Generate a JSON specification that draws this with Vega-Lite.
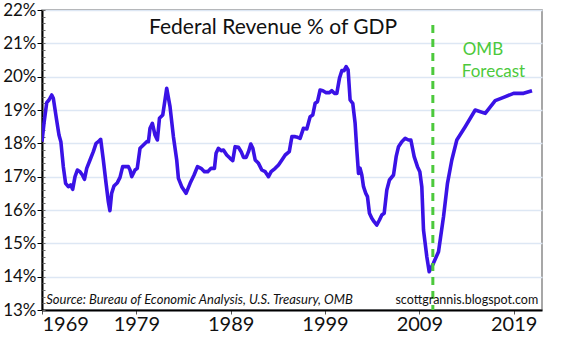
{
  "$schema": "https://vega.github.io/schema/vega-lite/v6.json",
  "width": 500,
  "height": 300,
  "autosize": {"type": "none"},
  "padding": {"left": 42, "top": 10, "right": 19, "bottom": 28},
  "background": "white",
  "config": {
    "view": {"stroke": "#8a8a8a", "strokeWidth": 1.5},
    "font": "Lato"
  },
  "datasets": {
    "revenue": [
    {"year": 1969.0, "pct": 18.05}, {"year": 1969.21, "pct": 18.6}, {"year": 1969.5, "pct": 19.22}, {"year": 1969.74, "pct": 19.3},
    {"year": 1970.03, "pct": 19.45}, {"year": 1970.2, "pct": 19.35}, {"year": 1970.55, "pct": 18.7}, {"year": 1970.8, "pct": 18.25},
    {"year": 1971.0, "pct": 18.05}, {"year": 1971.26, "pct": 17.3}, {"year": 1971.5, "pct": 16.8}, {"year": 1971.79, "pct": 16.7},
    {"year": 1972.04, "pct": 16.75}, {"year": 1972.25, "pct": 16.62}, {"year": 1972.5, "pct": 17.0}, {"year": 1972.75, "pct": 17.2},
    {"year": 1973.03, "pct": 17.15}, {"year": 1973.28, "pct": 17.05}, {"year": 1973.5, "pct": 16.92}, {"year": 1973.74, "pct": 17.25},
    {"year": 1974.09, "pct": 17.5}, {"year": 1974.44, "pct": 17.75}, {"year": 1974.73, "pct": 18.0}, {"year": 1974.97, "pct": 18.05},
    {"year": 1975.22, "pct": 18.12}, {"year": 1975.5, "pct": 17.5}, {"year": 1975.79, "pct": 16.8}, {"year": 1976.03, "pct": 16.25},
    {"year": 1976.2, "pct": 15.98}, {"year": 1976.38, "pct": 16.5}, {"year": 1976.63, "pct": 16.72}, {"year": 1976.99, "pct": 16.82},
    {"year": 1977.27, "pct": 16.98}, {"year": 1977.55, "pct": 17.3}, {"year": 1977.8, "pct": 17.3}, {"year": 1978.16, "pct": 17.3},
    {"year": 1978.33, "pct": 17.2}, {"year": 1978.51, "pct": 17.0}, {"year": 1978.86, "pct": 17.2}, {"year": 1979.1, "pct": 17.25},
    {"year": 1979.39, "pct": 17.85}, {"year": 1979.75, "pct": 17.95}, {"year": 1980.1, "pct": 18.05}, {"year": 1980.28, "pct": 18.05},
    {"year": 1980.45, "pct": 18.45}, {"year": 1980.7, "pct": 18.6}, {"year": 1980.98, "pct": 18.25}, {"year": 1981.23, "pct": 18.1},
    {"year": 1981.45, "pct": 18.75}, {"year": 1981.8, "pct": 18.85}, {"year": 1982.22, "pct": 19.65}, {"year": 1982.57, "pct": 19.1},
    {"year": 1982.93, "pct": 18.2}, {"year": 1983.28, "pct": 17.5}, {"year": 1983.46, "pct": 16.95}, {"year": 1983.81, "pct": 16.7},
    {"year": 1984.27, "pct": 16.5}, {"year": 1984.7, "pct": 16.8}, {"year": 1985.12, "pct": 17.05}, {"year": 1985.48, "pct": 17.3},
    {"year": 1985.86, "pct": 17.25}, {"year": 1986.22, "pct": 17.15}, {"year": 1986.57, "pct": 17.15}, {"year": 1986.92, "pct": 17.25},
    {"year": 1987.28, "pct": 17.25}, {"year": 1987.45, "pct": 17.7}, {"year": 1987.7, "pct": 17.85}, {"year": 1987.99, "pct": 17.78},
    {"year": 1988.23, "pct": 17.8}, {"year": 1988.58, "pct": 17.65}, {"year": 1988.94, "pct": 17.55}, {"year": 1989.22, "pct": 17.48},
    {"year": 1989.47, "pct": 17.9}, {"year": 1989.82, "pct": 17.88}, {"year": 1990.11, "pct": 17.75}, {"year": 1990.36, "pct": 17.58},
    {"year": 1990.64, "pct": 17.58}, {"year": 1990.89, "pct": 17.75}, {"year": 1991.13, "pct": 17.98}, {"year": 1991.35, "pct": 17.85},
    {"year": 1991.6, "pct": 17.5}, {"year": 1991.95, "pct": 17.4}, {"year": 1992.3, "pct": 17.2}, {"year": 1992.66, "pct": 17.15},
    {"year": 1993.01, "pct": 17.0}, {"year": 1993.29, "pct": 17.15}, {"year": 1993.72, "pct": 17.25}, {"year": 1994.07, "pct": 17.35},
    {"year": 1994.43, "pct": 17.5}, {"year": 1994.78, "pct": 17.65}, {"year": 1995.21, "pct": 17.75}, {"year": 1995.49, "pct": 18.2},
    {"year": 1995.84, "pct": 18.2}, {"year": 1996.1, "pct": 18.18}, {"year": 1996.36, "pct": 18.15}, {"year": 1996.71, "pct": 18.45},
    {"year": 1997.07, "pct": 18.43}, {"year": 1997.42, "pct": 18.8}, {"year": 1997.7, "pct": 18.85}, {"year": 1997.95, "pct": 19.2},
    {"year": 1998.2, "pct": 19.25}, {"year": 1998.48, "pct": 19.6}, {"year": 1998.77, "pct": 19.58}, {"year": 1999.12, "pct": 19.52},
    {"year": 1999.47, "pct": 19.52}, {"year": 1999.72, "pct": 19.58}, {"year": 2000.0, "pct": 19.5}, {"year": 2000.25, "pct": 19.5},
    {"year": 2000.53, "pct": 19.95}, {"year": 2000.78, "pct": 20.18}, {"year": 2001.02, "pct": 20.18}, {"year": 2001.24, "pct": 20.3},
    {"year": 2001.45, "pct": 20.2}, {"year": 2001.66, "pct": 19.3}, {"year": 2001.94, "pct": 19.2}, {"year": 2002.19, "pct": 18.6},
    {"year": 2002.37, "pct": 17.8}, {"year": 2002.55, "pct": 17.1}, {"year": 2002.72, "pct": 17.25}, {"year": 2002.9, "pct": 17.05},
    {"year": 2003.08, "pct": 16.7}, {"year": 2003.32, "pct": 16.5}, {"year": 2003.5, "pct": 16.4}, {"year": 2003.71, "pct": 15.9},
    {"year": 2003.96, "pct": 15.75}, {"year": 2004.2, "pct": 15.65}, {"year": 2004.49, "pct": 15.55}, {"year": 2004.77, "pct": 15.7},
    {"year": 2005.02, "pct": 15.85}, {"year": 2005.27, "pct": 15.9}, {"year": 2005.55, "pct": 16.6}, {"year": 2005.83, "pct": 16.9},
    {"year": 2006.26, "pct": 17.05}, {"year": 2006.54, "pct": 17.6}, {"year": 2006.79, "pct": 17.9}, {"year": 2007.14, "pct": 18.05},
    {"year": 2007.5, "pct": 18.15}, {"year": 2007.85, "pct": 18.1}, {"year": 2008.1, "pct": 18.1}, {"year": 2008.45, "pct": 17.6},
    {"year": 2008.8, "pct": 17.3}, {"year": 2009.05, "pct": 17.15}, {"year": 2009.26, "pct": 16.7}, {"year": 2009.44, "pct": 15.4},
    {"year": 2009.79, "pct": 14.6}, {"year": 2010.04, "pct": 14.15}, {"year": 2010.49, "pct": 14.4}, {"year": 2011.03, "pct": 14.75},
    {"year": 2011.56, "pct": 15.8}, {"year": 2011.98, "pct": 16.8}, {"year": 2012.44, "pct": 17.5}, {"year": 2012.97, "pct": 18.1},
    {"year": 2013.86, "pct": 18.5}, {"year": 2014.92, "pct": 19.0}, {"year": 2015.98, "pct": 18.9}, {"year": 2017.04, "pct": 19.28},
    {"year": 2017.93, "pct": 19.38}, {"year": 2018.99, "pct": 19.5}, {"year": 2020.05, "pct": 19.5}, {"year": 2020.94, "pct": 19.58}
    ],
    "one": [{"n": 1}]
  },
  "resolve": {"axis": {"y": "independent"}},
  "layer": [
    {
      "data": {"name": "revenue"},
      "mark": {"type": "line", "color": "#3a12e6", "strokeWidth": 3.6, "strokeJoin": "round", "clip": true},
      "encoding": {
        "x": {"field": "year", "type": "quantitative",
              "scale": {"domain": [1969, 2022], "nice": false, "zero": false},
              "axis": {"values": [1969, 1979, 1989, 1999, 2009, 2019], "format": "d", "title": null,
                       "grid": false, "domainColor": "#000000", "domainWidth": 2, "tickColor": "#555555",
                       "tickSize": 4, "labelFontSize": 20, "labelColor": "#111111", "labelPadding": 0,
                       "labelFont": "Lato", "labelFontWeight": "normal"}},
        "y": {"field": "pct", "type": "quantitative",
              "scale": {"domain": [13, 22], "nice": false, "zero": false},
              "axis": {"values": [13, 14, 15, 16, 17, 18, 19, 20, 21, 22], "labelExpr": "datum.value + '%'", "title": null,
                       "grid": true, "gridColor": "#dde7f4", "gridWidth": 1.5, "domainColor": "#000000", "domainWidth": 2,
                       "tickColor": "#000000", "tickSize": 5, "labelFontSize": 17, "labelColor": "#111111",
                       "labelPadding": 1, "labelFont": "Lato", "labelFontWeight": "normal"}}
      }
    },
    {
      "data": {"name": "one"},
      "mark": {"type": "rule", "color": "#4cc93c", "strokeWidth": 3, "strokeDash": [8, 6]},
      "encoding": {
        "x": {"datum": 2010.43, "type": "quantitative"},
        "y": {"datum": 21.55, "type": "quantitative",
              "axis": {"orient": "left", "values": [13, 13.2, 13.4, 13.6, 13.8, 14, 14.2, 14.4, 14.6, 14.8, 15, 15.2, 15.4, 15.6, 15.8, 16, 16.2, 16.4, 16.6, 16.8, 17, 17.2, 17.4, 17.6, 17.8, 18, 18.2, 18.4, 18.6, 18.8, 19, 19.2, 19.4, 19.6, 19.8, 20, 20.2, 20.4, 20.6, 20.8, 21, 21.2, 21.4, 21.6, 21.8, 22],
                       "labels": false, "domain": false, "grid": false, "title": null,
                       "tickSize": -3, "tickColor": "#666666", "tickWidth": 1}},
        "y2": {"datum": 13}
      }
    },
    {
      "data": {"name": "one"},
      "mark": {"type": "text", "text": "Federal Revenue % of GDP", "fontSize": 21, "font": "Lato", "fontWeight": "normal", "color": "#111111", "align": "center", "baseline": "middle"},
      "encoding": {"x": {"datum": 1993.5, "type": "quantitative"}, "y": {"datum": 21.45, "type": "quantitative", "axis": null}}
    },
    {
      "data": {"name": "one"},
      "mark": {"type": "text", "text": "OMB", "fontSize": 17, "font": "Lato", "fontWeight": "normal", "color": "#4cc93c", "align": "left", "baseline": "middle"},
      "encoding": {"x": {"datum": 2013.6, "type": "quantitative"}, "y": {"datum": 20.8, "type": "quantitative", "axis": null}}
    },
    {
      "data": {"name": "one"},
      "mark": {"type": "text", "text": "Forecast", "fontSize": 17, "font": "Lato", "fontWeight": "normal", "color": "#4cc93c", "align": "left", "baseline": "middle"},
      "encoding": {"x": {"datum": 2013.5, "type": "quantitative"}, "y": {"datum": 20.14, "type": "quantitative", "axis": null}}
    },
    {
      "data": {"name": "one"},
      "mark": {"type": "text", "text": "Source:  Bureau of Economic Analysis, U.S. Treasury, OMB", "fontSize": 13, "font": "Lato", "fontStyle": "italic", "fontWeight": "normal", "color": "#111111", "align": "left", "baseline": "middle"},
      "encoding": {"x": {"datum": 1969.45, "type": "quantitative"}, "y": {"datum": 13.3, "type": "quantitative", "axis": null}}
    },
    {
      "data": {"name": "one"},
      "mark": {"type": "text", "text": "scottgrannis.blogspot.com", "fontSize": 12.5, "font": "Lato", "fontWeight": "normal", "color": "#111111", "align": "right", "baseline": "middle"},
      "encoding": {"x": {"datum": 2021.6, "type": "quantitative"}, "y": {"datum": 13.3, "type": "quantitative", "axis": null}}
    }
  ]
}
